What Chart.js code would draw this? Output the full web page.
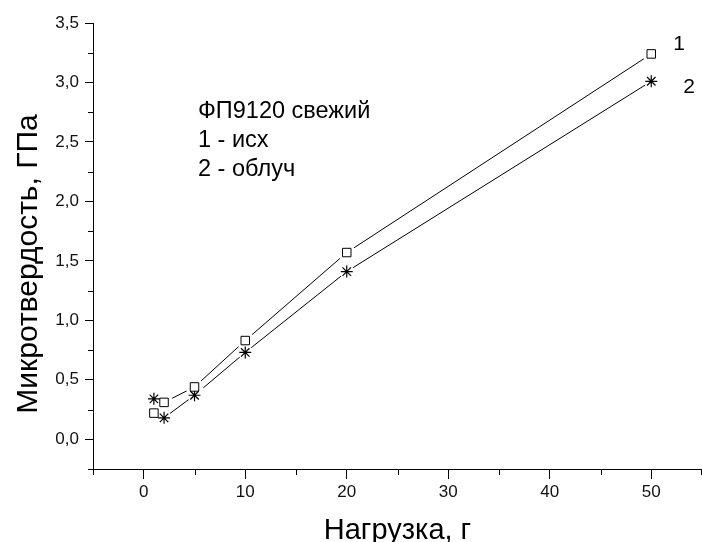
<!DOCTYPE html>
<html><head><meta charset="utf-8">
<script src="https://cdn.jsdelivr.net/npm/chart.js@4.4.1/dist/chart.umd.min.js"></script>
<style>html,body{margin:0;padding:0;background:#fff}</style>
</head><body>
<canvas id="c" width="702" height="542"></canvas>
<script>
const loads1 = [1, 2, 5, 10, 20, 50];
const hardness1 = [0.22, 0.31, 0.44, 0.83, 1.57, 3.24];
const loads2 = [1, 2, 5, 10, 20, 50];
const hardness2 = [0.34, 0.18, 0.37, 0.73, 1.41, 3.01];
const xTicks = [0, 10, 20, 30, 40, 50];
const xTickLabels = ['0', '10', '20', '30', '40', '50'];
const yTicks = [0, 0.5, 1, 1.5, 2, 2.5, 3, 3.5];
const yTickLabels = ['0,0', '0,5', '1,0', '1,5', '2,0', '2,5', '3,0', '3,5'];
const xMinorTicks = [-5, 5, 15, 25, 35, 45, 55];
const yMinorTicks = [-0.25, 0.25, 0.75, 1.25, 1.75, 2.25, 2.75, 3.25];
const seriesLabels = ['1', '2'];
const noteLines = ['ФП9120 свежий', '1 - исх', '2 - облуч'];
const xTitle = 'Нагрузка, г';
const yTitle = 'Микротвердость, ГПа';

const FONT = '"Liberation Sans", Arial, sans-serif';

const pts = (xs, ys) => xs.map((v, i) => ({ x: v, y: ys[i] }));

const extras = {
  id: 'extras',
  afterDraw(chart) {
    const { ctx, scales: { x, y }, chartArea } = chart;
    ctx.save();
    ctx.strokeStyle = '#000';
    ctx.lineWidth = 1;
    ctx.beginPath();
    xMinorTicks.forEach(v => {
      const px = Math.min(Math.round(x.getPixelForValue(v)) + 0.5, chart.width - 0.5);
      ctx.moveTo(px, chartArea.bottom);
      ctx.lineTo(px, chartArea.bottom + 6);
    });
    yMinorTicks.forEach(v => {
      const py = Math.round(y.getPixelForValue(v)) + 0.5;
      ctx.moveTo(chartArea.left, py);
      ctx.lineTo(chartArea.left - 5, py);
    });
    ctx.stroke();

    ctx.fillStyle = '#000';
    ctx.font = '29px ' + FONT;
    ctx.textAlign = 'center';
    ctx.textBaseline = 'alphabetic';
    ctx.fillText(xTitle, (chartArea.left + chartArea.right) / 2, 539);
    ctx.save();
    ctx.font = '30px ' + FONT;
    ctx.translate(37, (chartArea.top + chartArea.bottom) / 2 + 18);
    ctx.rotate(-Math.PI / 2);
    ctx.fillText(yTitle, 0, 0);
    ctx.restore();

    ctx.font = '21px ' + FONT;
    ctx.textAlign = 'left';
    const m1 = chart.getDatasetMeta(4).data;
    const m2 = chart.getDatasetMeta(5).data;
    const p1 = m1[m1.length - 1], p2 = m2[m2.length - 1];
    ctx.fillText(seriesLabels[0], p1.x + 22, p1.y - 4);
    ctx.fillText(seriesLabels[1], p2.x + 32, p2.y + 12);

    ctx.font = '23.5px ' + FONT;
    noteLines.forEach((t, i) => ctx.fillText(t, 198, 118 + i * 29));
    ctx.restore();
  }
};

const lineDs = (data) => ({
  data, borderColor: '#000', borderWidth: 1, tension: 0, fill: false,
  pointRadius: 0, order: 3
});
const haloDs = (data, r) => ({
  data, showLine: false, pointStyle: 'circle', pointRadius: r,
  pointBorderWidth: 0, pointBorderColor: 'rgba(0,0,0,0)', pointBackgroundColor: '#fff', order: 2
});

new Chart(document.getElementById('c'), {
  type: 'line',
  data: {
    datasets: [
      lineDs(pts(loads1, hardness1)),
      lineDs(pts(loads2, hardness2)),
      haloDs(pts(loads1, hardness1), 9),
      haloDs(pts(loads2, hardness2), 7.5),
      {
        label: seriesLabels[0],
        data: pts(loads1, hardness1), showLine: false, order: 1,
        pointStyle: 'rect', pointRadius: 6, pointBorderWidth: 1,
        pointBorderColor: '#000', pointBackgroundColor: '#fff'
      },
      {
        label: seriesLabels[1],
        data: pts(loads2, hardness2), showLine: false, order: 1,
        pointStyle: 'star', pointRadius: 6, pointBorderWidth: 1.2,
        pointBorderColor: '#000', pointBackgroundColor: '#000'
      }
    ]
  },
  options: {
    responsive: false,
    animation: false,
    devicePixelRatio: 1,
    events: [],
    layout: { autoPadding: false, padding: { top: 23, right: 0, left: 0, bottom: 0 } },
    plugins: { legend: { display: false }, tooltip: { enabled: false } },
    scales: {
      x: {
        type: 'linear', min: -5, max: 55,
        afterFit: s => { s.height = 73; s.paddingLeft = 0; s.paddingRight = 0; },
        afterBuildTicks: s => { s.ticks = xTicks.map(v => ({ value: v })); },
        ticks: {
          padding: 3, color: '#111',
          font: { family: FONT, size: 17 },
          callback: (v) => xTickLabels[xTicks.indexOf(v)] ?? ''
        },
        grid: { drawOnChartArea: false, drawTicks: true, tickLength: 10, color: '#000', tickWidth: 1 },
        border: { display: true, color: '#000', width: 1 }
      },
      y: {
        type: 'linear', min: -0.25, max: 3.5,
        afterFit: s => { s.width = 93; s.paddingTop = 0; s.paddingBottom = 0; },
        afterBuildTicks: s => { s.ticks = yTicks.map(v => ({ value: v })); },
        ticks: {
          padding: 6, color: '#111',
          font: { family: FONT, size: 17 },
          callback: (v) => yTickLabels[yTicks.indexOf(v)] ?? ''
        },
        grid: { drawOnChartArea: false, drawTicks: true, tickLength: 8, color: '#000', tickWidth: 1 },
        border: { display: true, color: '#000', width: 1 }
      }
    }
  },
  plugins: [extras]
});
</script>
</body></html>
